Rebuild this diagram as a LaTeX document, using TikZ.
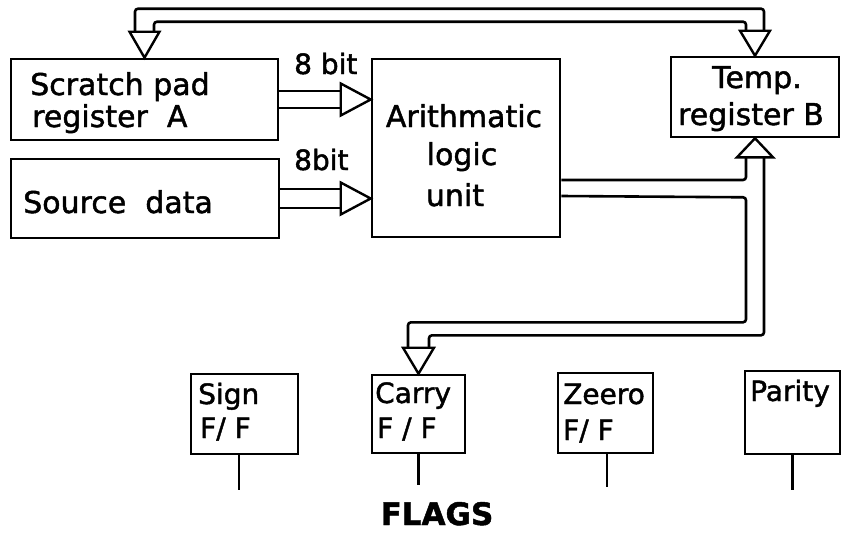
\documentclass[tikz,border=0pt]{standalone}
\usepackage{fontspec}
\setmainfont{DejaVu Sans}[FakeBold=1.5]
\usetikzlibrary{calc}
\begin{document}
\begin{tikzpicture}[x=1pt,y=-1pt,
  rect/.style={draw,line width=2.6pt,inner sep=0pt},
  bus/.style={draw,line width=2.6pt,rounded corners=3pt},
  head/.style={draw,line width=2.4pt,fill=white,line join=miter},
  stem/.style={draw,line width=2.2pt},
  big/.style={inner sep=0pt,font=\fontsize{30}{32}\selectfont},
  bits/.style={inner sep=0pt,font=\fontsize{28}{30}\selectfont},
  flag/.style={inner sep=0pt,font=\fontsize{28}{30}\selectfont},
  ttl/.style={inner sep=0pt,font=\bfseries\fontsize{31}{33}\selectfont}]
\fill[white] (0,0) rectangle (845,533);
\useasboundingbox (0,0) rectangle (845,533);

% boxes
\node[rect,minimum width=267pt,minimum height=81pt] (SA) at (144.5,99.5) {};
\node[rect,minimum width=268pt,minimum height=79pt] (SD) at (145,198.5) {};
\node[rect,minimum width=188pt,minimum height=178pt] (ALU) at (466,148) {};
\node[rect,minimum width=168pt,minimum height=80pt] (TB) at (755,97) {};
\node[rect,minimum width=107pt,minimum height=80pt] (Sign) at (244.5,414) {};
\node[rect,minimum width=93pt,minimum height=78pt] (Carry) at (418.5,414) {};
\node[rect,minimum width=95pt,minimum height=80pt] (Zeero) at (605.5,413) {};
\node[rect,minimum width=95pt,minimum height=83pt] (Parity) at (792.5,412.5) {};

% texts
\node[big,anchor=base west] (t1) at (30,95) {Scratch pad};
\node[big,anchor=base west] (t2) at (32,127) {register\ \ A};
\node[big,anchor=base west] (t3) at (23,213) {Source\ \ data};
\node[big,anchor=base] (t4) at (464,127) {Arithmatic};
\node[big,anchor=base] (t5) at (462,165) {logic};
\node[big,anchor=base] (t6) at (455,206) {unit};
\node[big,anchor=base] (t7) at (757,88) {Temp.};
\node[big,anchor=base] (t8) at (751,125) {register B};
\node[bits,anchor=base west] (b1) at (294,74) {8 bit};
\node[bits,anchor=base west] (b2) at (294,170) {8bit};
\node[flag,anchor=base west] (f1) at (198,404) {Sign};
\node[flag,anchor=base west] (f2) at (200,438) {F/ F};
\node[flag,anchor=base west] (f3) at (375,403) {Carry};
\node[flag,anchor=base west] (f4) at (377,438) {F / F};
\node[flag,anchor=base west] (f5) at (563,404) {Zeero};
\node[flag,anchor=base west] (f6) at (563,440) {F/ F};
\node[flag,anchor=base west] (f7) at (750,401) {Parity};
\node[ttl,anchor=base] (fl) at (437,525) {FLAGS};

% top bus: to SA and TB
\draw[bus] ($(SA.north)+(-9.5,-26)$) -- ++(0,-23) -| ($(TB.north)+(9,-25)$);
\draw[bus] ($(SA.north)+(9.5,-26)$) -- ++(0,-10) -| ($(TB.north)+(-9,-25)$);
\draw[head] ($(SA.north)+(-15,-26)$) -- (SA.north) -- ($(SA.north)+(15,-26)$) -- cycle;
\draw[head] ($(TB.north)+(-15,-25)$) -- (TB.north) -- ($(TB.north)+(15,-25)$) -- cycle;

% 8 bit inputs
\coordinate (inA) at (ALU.west |- SA.east);
\coordinate (inB) at (ALU.west |- SD.east);
\draw[bus] ($(SA.east)+(0,-8.5)$) -- ($(inA)+(-30,-8.5)$);
\draw[bus] ($(SA.east)+(0,8.5)$) -- ($(inA)+(-30,8.5)$);
\draw[head] ($(inA)+(-30,-16)$) -- (inA) -- ($(inA)+(-30,16)$) -- cycle;
\draw[bus] ($(SD.east)+(0,-9.5)$) -- ($(inB)+(-30,-9.5)$);
\draw[bus] ($(SD.east)+(0,9.5)$) -- ($(inB)+(-30,9.5)$);
\draw[head] ($(inB)+(-30,-16)$) -- (inB) -- ($(inB)+(-30,16)$) -- cycle;

% ALU output bus to TB and Carry
\draw[bus] ($(ALU.east)+(0,32)$) -| ($(TB.south)+(-9,19)$);
\draw[bus] ($(TB.south)+(9,19)$) -- ($(TB.south)+(9,197)$) -| ($(Carry.north)+(10.5,-26)$);
\draw[bus] ($(ALU.east)+(0,48)$) -- ($(TB.south)+(-9,59)$) -- ($(TB.south)+(-9,184)$) -| ($(Carry.north)+(-10.5,-26)$);
\draw[head] ($(TB.south)+(-18,19)$) -- (TB.south) -- ($(TB.south)+(18,19)$) -- cycle;
\draw[head] ($(Carry.north)+(-15.5,-26)$) -- (Carry.north) -- ($(Carry.north)+(15.5,-26)$) -- cycle;

% flag outputs
\coordinate (e1) at ($(Sign.south)+(-5.5,35)$);
\coordinate (e2) at ($(Carry.south)+(0,31)$);
\coordinate (e3) at ($(Zeero.south)+(1.5,33)$);
\coordinate (e4) at ($(Parity.south)+(0,35)$);
\draw[stem] ($(Sign.south)+(-5.5,0)$) -- (e1);
\draw[stem] (Carry.south) -- (e2);
\draw[stem] ($(Zeero.south)+(1.5,0)$) -- (e3);
\draw[stem] (Parity.south) -- (e4);
\end{tikzpicture}
\end{document}
